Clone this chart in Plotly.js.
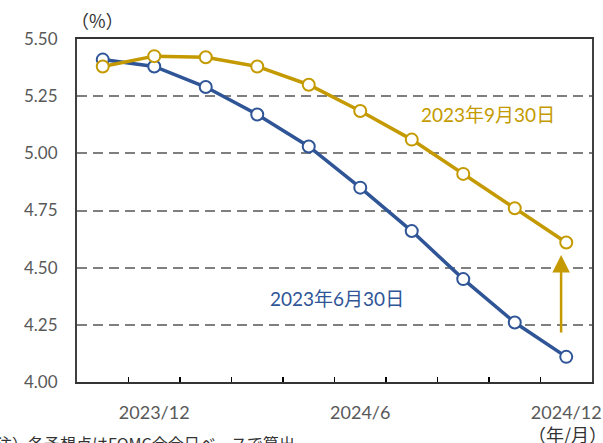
<!DOCTYPE html>
<html>
<head>
<meta charset="utf-8">
<script src="https://cdn.plot.ly/plotly-3.0.1.min.js"></script>
<style>
  html, body { margin: 0; padding: 0; background: #fff; }
  #grafico { width: 603px; height: 443px; }
</style>
</head>
<body>
<div id="grafico"></div>
<script>
// FOMC会合日ごとの予想政策金利（%）
const fomcMeses = ['2023/11', '2023/12', '2024/1', '2024/3', '2024/5', '2024/6', '2024/7', '2024/9', '2024/11', '2024/12'];
const rotulosX = ['', '2023/12', '', '', '', '2024/6', '', '', '', '2024/12'];
const taxaJun30 = [5.41, 5.38, 5.29, 5.17, 5.03, 4.85, 4.66, 4.45, 4.26, 4.11];
const taxaSet30 = [5.38, 5.425, 5.42, 5.38, 5.30, 5.185, 5.06, 4.91, 4.76, 4.61];
const nomeJun = '2023年6月30日';
const nomeSet = '2023年9月30日';

const azul = '#2F5597';
const ouro = '#C49A00';
const fonte = 'Lato, "Noto Sans CJK JP", sans-serif';

function serie(y, cor, nome) {
  return {
    x: fomcMeses,
    y: y,
    name: nome,
    mode: 'lines+markers',
    type: 'scatter',
    line: { color: cor, width: 3.5 },
    marker: { size: 12, color: '#fff', line: { color: cor, width: 2 } },
    cliponaxis: false
  };
}

// posições em pixels convertidas para coordenadas do papel
function papel(px, py) {
  const w = 603 - 77 - 11, h = 443 - 39 - 61;
  return { x: (px - 77) / w, y: (443 - 61 - py) / h };
}
const pPct = papel(97, 20);
const pAno = papel(567, 434);
const pNota = papel(-22, 443);

const layout = {
  width: 603,
  height: 443,
  margin: { l: 77, r: 11, t: 39, b: 61 },
  paper_bgcolor: '#fff',
  plot_bgcolor: '#fff',
  showlegend: false,
  font: { family: fonte, color: '#595959', size: 16 },
  xaxis: {
    type: 'category',
    categoryorder: 'array',
    categoryarray: fomcMeses,
    range: [-0.5, 9.5],
    tickvals: fomcMeses,
    ticktext: rotulosX,
    tickson: 'boundaries',
    tickangle: 0,
    ticks: 'inside',
    ticklen: 5,
    tickwidth: 1.5,
    tickcolor: '#000',
    showgrid: false,
    showline: true,
    linecolor: '#333',
    linewidth: 2,
    mirror: true,
    ticklabelstandoff: 13,
    tickfont: { size: 18, color: '#595959' },
    zeroline: false
  },
  yaxis: {
    range: [4.0, 5.5],
    tickvals: [4.0, 4.25, 4.5, 4.75, 5.0, 5.25, 5.5],
    ticktext: ['4.00', '4.25', '4.50', '4.75', '5.00', '5.25', '5.50'],
    ticks: '',
    showgrid: true,
    gridcolor: '#7f7f7f',
    gridwidth: 2,
    griddash: '10px,6px',
    showline: true,
    linecolor: '#404040',
    linewidth: 2,
    mirror: true,
    ticklabelstandoff: 14,
    tickfont: { size: 17, color: '#595959' },
    zeroline: false
  },
  annotations: [
    { text: nomeSet, x: 7.48, y: 5.171, xref: 'x', yref: 'y', showarrow: false,
      font: { size: 19, color: ouro }, xanchor: 'center', yanchor: 'middle' },
    { text: nomeJun, x: 4.55, y: 4.367, xref: 'x', yref: 'y', showarrow: false,
      font: { size: 19, color: azul }, xanchor: 'center', yanchor: 'middle' },
    { text: '', x: 8.9, y: 4.555, ax: 8.9, ay: 4.21, xref: 'x', yref: 'y', axref: 'x', ayref: 'y',
      showarrow: true, arrowhead: 2, arrowsize: 1.4, arrowwidth: 2.5, arrowcolor: ouro },
    { text: '（%）', x: pPct.x, y: pPct.y, xref: 'paper', yref: 'paper', showarrow: false,
      xanchor: 'center', yanchor: 'middle',
      font: { size: 18, color: '#333', family: '"Noto Sans CJK JP", sans-serif' } },
    { text: '（年/月）', x: pAno.x, y: pAno.y, xref: 'paper', yref: 'paper', showarrow: false,
      xanchor: 'center', yanchor: 'middle',
      font: { size: 18, color: '#333', family: '"Noto Sans CJK JP", sans-serif' } },
    { text: '（注）各予想点はFOMC会合日ベースで算出', x: pNota.x, y: pNota.y, xref: 'paper', yref: 'paper',
      showarrow: false, xanchor: 'left', yanchor: 'middle',
      font: { size: 16, color: '#333', family: '"Noto Sans CJK JP", serif' } }
  ]
};

Plotly.newPlot('grafico', [serie(taxaJun30, azul, nomeJun), serie(taxaSet30, ouro, nomeSet)], layout, { staticPlot: true });
</script>
</body>
</html>
